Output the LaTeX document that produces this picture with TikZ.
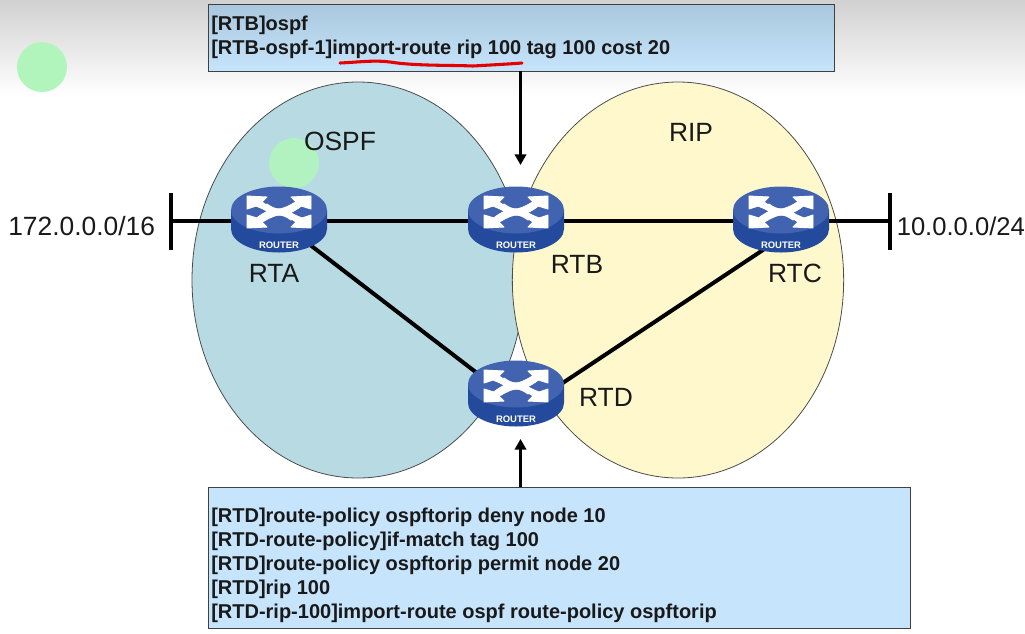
\documentclass[tikz,border=0pt]{standalone}
\usepackage{fontspec}
\setmainfont{Liberation Sans}
\usetikzlibrary{arrows.meta,shapes.geometric}
\definecolor{ospffill}{HTML}{B8DAE2}
\definecolor{ripfill}{HTML}{FFF8CC}
\definecolor{routertop}{HTML}{4263B0}
\definecolor{routerside}{HTML}{234A9C}
\definecolor{dotgreen}{HTML}{B2F5BC}
\definecolor{cmdlight}{HTML}{C6E4FB}
\definecolor{cmddark}{HTML}{A9C8DE}
\tikzset{
  x=0.75pt,y=-0.75pt,
  area/.style={ellipse,draw=black!70,line width=0.6pt,inner sep=0pt},
  link/.style={draw=black,line width=2.5pt},
  slant/.style={draw=black,line width=3pt},
  bar/.style={draw=black,line width=2.8pt},
  pointer/.style={draw=black,line width=2.5pt,-{Triangle[length=8pt,width=8.5pt]}},
  hub/.style={circle,minimum size=30pt,inner sep=0pt},
  label/.style={font=\fontsize{19.8}{22}\selectfont,inner sep=0pt,text=black!90},
  net/.style={font=\fontsize{19.8}{22}\selectfont,inner sep=0pt,text=black!90},
  cmdbox/.style={draw=black!75,line width=0.7pt,inner sep=0pt},
  cmd/.style={font=\bfseries\fontsize{15}{18}\selectfont,align=left,anchor=north west,inner sep=0pt,text=black!90},
  crossarrow/.style={fill=white,draw=white,line width=0.7pt,line join=round},
  pics/router/.style={code={
    % base disc, top disc, the crossing arrows and the caption
    \fill[routerside] (-48,-11) -- (-48,8) arc[start angle=180,end angle=0,x radius=48,y radius=23.5] -- (48,-11) -- cycle;
    \fill[routertop] (0,-11) ellipse[x radius=48,y radius=23.5];
    \foreach \s in {1,-1}{
      \begin{scope}[shift={(0,-9)},xscale=\s,yscale=\s]
        \path[crossarrow] (-32,-16) -- (-12,-15) -- (-17,-10) -- (-2,0) -- (-15,9) -- (-21,5) -- (-11,-1) -- (-23,-6) -- (-32,-3) -- cycle;
        \path[crossarrow] (32,-16) -- (12,-15) -- (17,-10) .. controls (8,-5) and (3,-3) .. (0,-3) .. controls (-4,-3) and (-8,-5) .. (-12,-8) -- (-17,-4) .. controls (-10,1) and (-4,3) .. (1,3) .. controls (8,3) and (16,-1) .. (22,-6) -- (32,-3) -- cycle;
      \end{scope}
    }
    \node[font=\bfseries\fontsize{7.1}{8}\selectfont,text=white,inner sep=0pt] at (0,24.5) {ROUTER};
  }},
}
\begin{document}
\begin{tikzpicture}
\useasboundingbox (0,0) rectangle (1025,633);
% page backdrop
\fill[white] (0,0) rectangle (1025,633);
\shade[top color=black!18,bottom color=white] (0,0) rectangle (1025,96);
\fill[dotgreen] (42,67) circle[radius=25];

% routing domains
\node (ospf) [area,fill=ospffill,minimum width=249pt,minimum height=297pt] at (358,280) {};
\node (rip) [area,fill=ripfill,minimum width=248.5pt,minimum height=297pt] at (678,280) {};
\fill[dotgreen!90!ospffill] (294,163) circle[radius=25];

% command boxes
\node (cmdtop) [cmdbox,top color=cmddark,bottom color=cmdlight,minimum width=469.5pt,minimum height=50pt] at (521,37.7) {};
\node (cmdbottom) [cmdbox,fill=cmdlight,minimum width=526pt,minimum height=105.8pt] at (559.5,557.5) {};
\node (cmdtoptext) [cmd] at (211,16) {[RTB]ospf\\{}[RTB-ospf-1]import-route rip 100 tag 100 cost 20};
\node (cmdbottomtext) [cmd] at (211,508) {[RTD]route-policy ospftorip deny node 10\\{}[RTD-route-policy]if-match tag 100\\{}[RTD]route-policy ospftorip permit node 20\\{}[RTD]rip 100\\{}[RTD-rip-100]import-route ospf route-policy ospftorip};
\draw[red!90!black,line width=2.3pt,line cap=round] (340,63) .. controls (360,62) and (375,60) .. (390,62) .. controls (415,66) and (450,65) .. (473,66) .. controls (490,65) and (510,64) .. (522,63);

% routers and their attachment points
\node (rta) [hub] at (279,221) {};
\node (rtb) [hub] at (516,221) {};
\node (rtc) [hub] at (781,221) {};
\node (rtd) [hub] at (516,395) {};
\coordinate (rtdwest) at (516,403);
\coordinate (rtdeast) at (516,414);
\coordinate (rtcsouth) at (781,238);
\coordinate (leftbar) at (171,221);
\coordinate (rightbar) at (890,221);
\coordinate (leftbartop) at (171,193);
\coordinate (leftbarbottom) at (171,250);
\coordinate (rightbartop) at (890,193);
\coordinate (rightbarbottom) at (890,250);

% links
\draw[link] (leftbar) -- (rta.center);
\draw[link] (rta.center) -- (rtb.center);
\draw[link] (rtb.center) -- (rtc.center);
\draw[link] (rtc.center) -- (rightbar);
\draw[slant] (rta.center) -- (rtdwest);
\draw[slant] (rtdeast) -- (rtcsouth);
\draw[bar] (leftbartop) -- (leftbarbottom);
\draw[bar] (rightbartop) -- (rightbarbottom);

% configuration pointers
\coordinate (toptip) at (520.5,165);
\coordinate (toptail) at (520.5,71);
\coordinate (bottomtip) at (520.5,439);
\coordinate (bottomtail) at (520.5,487);
\draw[pointer] (toptail) -- (toptip);
\draw[pointer] (bottomtail) -- (bottomtip);

\pic at (rta) {router};
\pic at (rtb) {router};
\pic at (rtc) {router};
\pic at (rtd) {router};

% labels
\node (ospflabel) [label] at (340,141) {OSPF};
\node (riplabel) [label] at (691,132) {RIP};
\node (rtalabel) [label] at (274,273) {RTA};
\node (rtblabel) [label] at (577,264) {RTB};
\node (rtclabel) [label] at (795,273) {RTC};
\node (rtdlabel) [label] at (606,397) {RTD};
\node (netleft) [net,anchor=west] at (8,226) {172.0.0.0/16};
\node (netright) [net,anchor=west,font=\fontsize{19.2}{22}\selectfont] at (896.5,226) {10.0.0.0/24};
\end{tikzpicture}
\end{document}
